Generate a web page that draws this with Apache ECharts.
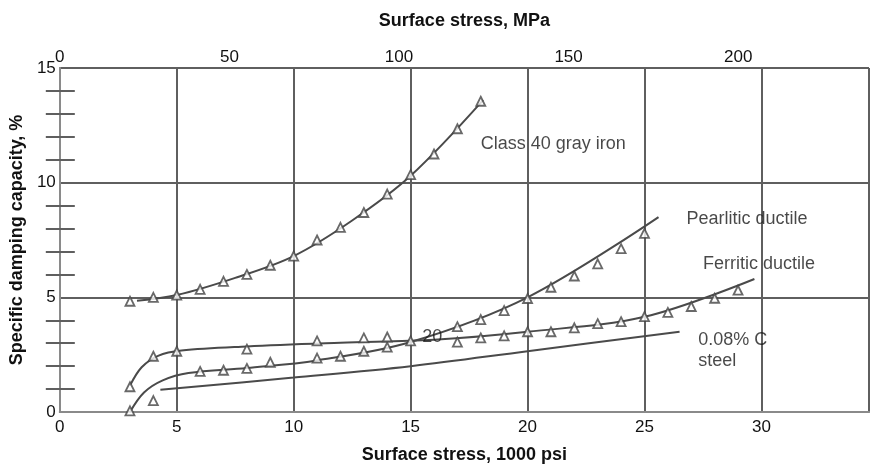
<!DOCTYPE html>
<html>
<head>
<meta charset="utf-8">
<script src="https://cdn.jsdelivr.net/npm/echarts@6/dist/echarts.min.js"></script>
<style>
  html, body { margin: 0; padding: 0; background: #fff; }
  #damping { width: 872px; height: 469px; }
</style>
</head>
<body>
<div id="damping"></div>
<script>
// values, x in 1000 psi, y in %
const ksiTicks = [0, 5, 10, 15, 20, 25, 30];
const mpaTicks = [0, 50, 100, 150, 200];
const dampTicks = [0, 5, 10, 15];

const grayIronPts = [[3, 4.83], [4, 5.0], [5, 5.1], [6, 5.35], [7, 5.7], [8, 6.0], [9, 6.4], [10, 6.8],
  [11, 7.5], [12, 8.05], [13, 8.7], [14, 9.5], [15, 10.35], [16, 11.25], [17, 12.35], [18, 13.55]];
const grayIronCurve = [[3.3, 4.85], [5, 5.1], [7.5, 5.85], [10, 6.8], [12.5, 8.35], [15, 10.3],
  [18.1, 13.6]];

const pearliticPts = [[3, 0.05], [4, 0.5], [6, 1.77], [7, 1.82], [8, 1.9], [9, 2.17], [11, 2.35], [12, 2.43],
  [13, 2.65], [14, 2.83], [15, 3.1], [17, 3.72], [18, 4.03], [19, 4.42], [20, 4.95], [21, 5.44],
  [22, 5.93], [23, 6.46], [24, 7.12], [25, 7.79]];
const pearliticCurve = [[3.0, 0.0], [3.6, 0.85], [4.4, 1.38], [5.5, 1.7], [8, 1.92], [11, 2.25],
  [15, 3.05], [20, 5.0], [25.6, 8.5]];

const ferriticPts = [[3, 1.1], [4, 2.43], [5, 2.65], [8, 2.74], [11, 3.1], [13, 3.23], [14, 3.27],
  [17, 3.05], [18, 3.23], [19, 3.32], [20, 3.5], [21, 3.5], [22, 3.67], [23, 3.85], [24, 3.94],
  [25, 4.16], [26, 4.34], [27, 4.6], [28, 4.96], [29, 5.31]];
const ferriticCurve = [[3.0, 1.15], [3.5, 1.95], [4.2, 2.45], [5.2, 2.68], [8, 2.86], [12, 3.02],
  [16, 3.15], [20, 3.5], [25, 4.15], [29.7, 5.8]];

const steelCurve = [[4.3, 0.97], [10, 1.5], [15, 2.0], [20, 2.65], [26.5, 3.5]];

const notes = [
  { name: 'Class 40 gray iron', value: [18.0, 11.7] },
  { name: 'Pearlitic ductile', value: [26.8, 8.4] },
  { name: 'Ferritic ductile', value: [27.5, 6.45] },
  { name: '0.08% C\nsteel', value: [27.3, 2.7] },
  { name: '20', value: [15.5, 3.25] }
];

const KSI_MAX = 34.6;
const KSI_TO_MPA = 6.895;

const font = 'Liberation Sans, Arial, sans-serif';
const lineColor = '#4a4a4a';
const gridColor = '#5f5f5f';
const borderColor = '#8a8a8a';

const curve = (data) => ({
  type: 'line',
  data,
  smooth: 0.35,
  showSymbol: false,
  lineStyle: { color: lineColor, width: 2 },
  z: 3
});

const marks = (data) => ({
  type: 'scatter',
  data,
  symbol: 'triangle',
  symbolSize: 9,
  itemStyle: { color: '#fff', borderColor: '#444', borderWidth: 1.8 },
  z: 4
});

const chart = echarts.init(document.getElementById('damping'));
chart.setOption({
  animation: false,
  textStyle: { fontFamily: font },
  grid: { left: 58, right: 1, top: 68, bottom: 57 },
  xAxis: [
    {
      type: 'value',
      position: 'bottom',
      min: 0,
      max: KSI_MAX,
      interval: 5,
      name: 'Surface stress, 1000 psi',
      nameLocation: 'middle',
      nameGap: 34,
      nameTextStyle: { fontSize: 18, fontWeight: 'bold', color: '#111', fontFamily: font },
      axisLine: { lineStyle: { color: borderColor, width: 2 } },
      axisTick: { show: false },
      axisLabel: {
        fontSize: 17, color: '#111', margin: 7,
        formatter: (v) => ksiTicks.includes(v) ? String(v) : ''
      },
      splitLine: { show: true, lineStyle: { color: gridColor, width: 2 } }
    },
    {
      type: 'value',
      position: 'top',
      min: 0,
      max: KSI_MAX * KSI_TO_MPA,
      interval: 50,
      name: 'Surface stress, MPa',
      nameLocation: 'middle',
      nameGap: 38,
      nameTextStyle: { fontSize: 18, fontWeight: 'bold', color: '#111', fontFamily: font },
      axisLine: { lineStyle: { color: borderColor, width: 2 } },
      axisTick: { show: false },
      axisLabel: {
        fontSize: 17, color: '#111', margin: 2,
        formatter: (v) => mpaTicks.includes(v) ? String(v) : ''
      },
      splitLine: { show: false }
    }
  ],
  yAxis: [
    {
      type: 'value',
      position: 'left',
      min: 0,
      max: 15,
      interval: 5,
      name: 'Specific damping capacity, %',
      nameLocation: 'middle',
      nameGap: 33,
      nameTextStyle: { fontSize: 18, fontWeight: 'bold', color: '#111', fontFamily: font },
      axisLine: { lineStyle: { color: borderColor, width: 2 } },
      axisTick: { show: false, inside: true },
      minorTick: { show: true, splitNumber: 5, length: 15, lineStyle: { color: gridColor, width: 2 } },
      axisLabel: {
        fontSize: 17, color: '#111', margin: 4,
        formatter: (v) => dampTicks.includes(v) ? String(v) : ''
      },
      splitLine: { show: true, lineStyle: { color: gridColor, width: 2 } }
    },
    {
      type: 'value',
      position: 'right',
      min: 0,
      max: 15,
      interval: 5,
      axisLine: { show: true, lineStyle: { color: borderColor, width: 2 } },
      axisTick: { show: false, inside: true },
      minorTick: { show: true, splitNumber: 5, length: 14, lineStyle: { color: gridColor, width: 2 } },
      axisLabel: { show: false },
      splitLine: { show: false }
    }
  ],
  series: [
    curve(grayIronCurve),
    curve(pearliticCurve),
    curve(ferriticCurve),
    curve(steelCurve),
    marks(grayIronPts),
    marks(pearliticPts),
    marks(ferriticPts),
    {
      type: 'scatter',
      data: notes,
      symbolSize: 0,
      silent: true,
      z: 5,
      label: {
        show: true,
        position: 'right',
        distance: 0,
        formatter: (p) => p.name,
        fontSize: 18,
        lineHeight: 21,
        color: '#1a1a1a',
        fontFamily: font
      }
    }
  ]
});
</script>
</body>
</html>
